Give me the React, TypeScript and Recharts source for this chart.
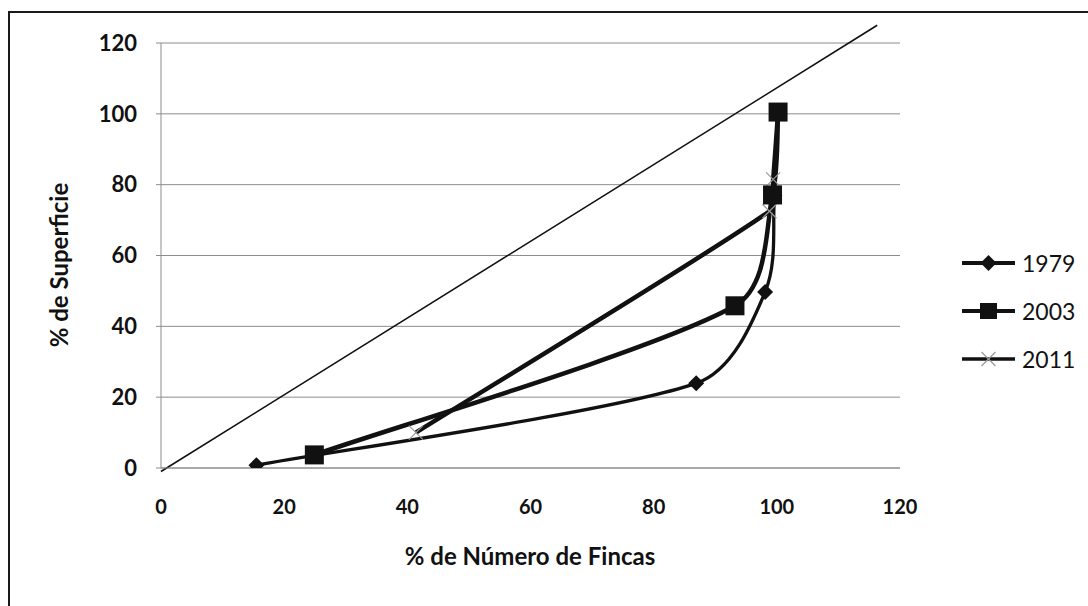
import { LineChart, Line, XAxis, YAxis, CartesianGrid, ReferenceLine } from 'recharts';

// % de Número de Fincas (x) / % de Superficie (y)
const x1979 = [15.5, 86.9, 98.1, 99.6, 100.2];
const y1979 = [0.8, 23.9, 49.7, 77, 100.5];
const x2003 = [24.9, 93.2, 99.3, 100.2];
const y2003 = [3.7, 45.8, 77.1, 100.5];
const x2011 = [41.4, 98.8, 99.4, 100.2];
const y2011 = [10, 72.5, 81.5, 100.5];
const seriesNames = ['1979', '2003', '2011'];
const axisTicks = [0, 20, 40, 60, 80, 100, 120];
const diagonalEnd = { x: 116.3, y: 125 };

const zip = (xs: number[], ys: number[]) => xs.map((x, i) => ({ x, y: ys[i] }));
const d1979 = zip(x1979, y1979);
const d2003 = zip(x2003, y2003);
const d2011 = zip(x2011, y2011);

const FONT = 'Lato, "Open Sans", sans-serif';

// Excel-like smoothed line: Catmull-Rom tangents, capped on short segments
const smoothCurve = (context: any) => {
  let pts: number[][] = [];
  const tangent = (a: number[], b: number[], segLen: number) => {
    const dx = b[0] - a[0];
    const dy = b[1] - a[1];
    const len = Math.hypot(dx, dy) || 1;
    const mag = Math.min(len / 6, segLen / 3);
    return [(dx / len) * mag, (dy / len) * mag];
  };
  return {
    areaStart() {},
    areaEnd() {},
    lineStart() {
      pts = [];
    },
    point(x: number, y: number) {
      pts.push([+x, +y]);
    },
    lineEnd() {
      const n = pts.length;
      if (!n) return;
      context.moveTo(pts[0][0], pts[0][1]);
      for (let i = 0; i < n - 1; i++) {
        const p0 = pts[Math.max(i - 1, 0)];
        const p1 = pts[i];
        const p2 = pts[i + 1];
        const p3 = pts[Math.min(i + 2, n - 1)];
        const seg = Math.hypot(p2[0] - p1[0], p2[1] - p1[1]);
        const t1 = tangent(p0, p2, seg);
        const t2 = tangent(p1, p3, seg);
        context.bezierCurveTo(p1[0] + t1[0], p1[1] + t1[1], p2[0] - t2[0], p2[1] - t2[1], p2[0], p2[1]);
      }
    },
  };
};

const Diamond = (props: any) => {
  const { cx, cy } = props;
  if (cx == null || cy == null) return null;
  return <path d={`M${cx},${cy - 8} L${cx + 8},${cy} L${cx},${cy + 8} L${cx - 8},${cy} Z`} fill="#111" />;
};

const Square = (props: any) => {
  const { cx, cy } = props;
  if (cx == null || cy == null) return null;
  return <rect x={cx - 9.5} y={cy - 9.5} width={19} height={19} fill="#111" />;
};

const Cross = (props: any) => {
  const { cx, cy } = props;
  if (cx == null || cy == null) return null;
  return (
    <g stroke="#9a9a9a" strokeWidth={1.2}>
      <line x1={cx - 7} y1={cy - 7} x2={cx + 7} y2={cy + 7} />
      <line x1={cx - 7} y1={cy + 7} x2={cx + 7} y2={cy - 7} />
    </g>
  );
};

const legendIcon = (i: number) => {
  const line = <line x1={0} y1={10} x2={53} y2={10} stroke="#111" strokeWidth={i === 2 ? 3.5 : 4} />;
  let mark = null;
  if (i === 0) mark = <Diamond cx={26.5} cy={10} />;
  if (i === 1) mark = <rect x={18} y={2} width={17} height={16} fill="#111" />;
  if (i === 2) mark = <Cross cx={26.5} cy={10} />;
  return (
    <svg width={56} height={20} style={{ display: 'block' }}>
      {line}
      {mark}
    </svg>
  );
};

export default function App() {
  return (
    <div
      style={{
        position: 'absolute',
        left: 8,
        top: 11,
        width: 1100,
        height: 620,
        border: '2px solid #1a1a1a',
        background: '#fff',
        fontFamily: FONT,
      }}
    >
      <LineChart width={1080} height={600} margin={{ top: 30, right: 190, left: 41, bottom: 115 }}>
        <CartesianGrid vertical={false} stroke="#8c8c8c" />
        <XAxis
          type="number"
          dataKey="x"
          domain={[0, 120]}
          ticks={axisTicks}
          interval={0}
          allowDataOverflow
          height={30}
          axisLine={{ stroke: '#8c8c8c' }}
          tickLine={false}
          tickSize={0}
          tickMargin={32}
          tick={{ fill: '#111', fontSize: 20, fontWeight: 700, fontFamily: FONT }}
        />
        <YAxis
          type="number"
          dataKey="y"
          domain={[0, 120]}
          ticks={axisTicks}
          interval={0}
          allowDataOverflow
          width={110}
          axisLine={{ stroke: '#8c8c8c' }}
          tickLine={{ stroke: '#8c8c8c' }}
          tickSize={5}
          tickMargin={19}
          tick={{ fill: '#111', fontSize: 22, fontWeight: 700, fontFamily: FONT }}
        />
        <ReferenceLine
          segment={[{ x: 0, y: -1 }, diagonalEnd]}
          ifOverflow="visible"
          stroke="#111"
          strokeWidth={1.6}
        />
        <Line
          data={d1979}
          dataKey="y"
          name={seriesNames[0]}
          type={smoothCurve as any}
          stroke="#111"
          strokeWidth={3.3}
          dot={<Diamond />}
          isAnimationActive={false}
        />
        <Line
          data={d2011}
          dataKey="y"
          name={seriesNames[2]}
          type={smoothCurve as any}
          stroke="#111"
          strokeWidth={4.5}
          dot={<Cross />}
          isAnimationActive={false}
        />
        <Line
          data={d2003}
          dataKey="y"
          name={seriesNames[1]}
          type={smoothCurve as any}
          stroke="#111"
          strokeWidth={4.5}
          dot={<Square />}
          isAnimationActive={false}
        />
      </LineChart>

      {/* axis titles */}
      <div
        style={{
          position: 'absolute',
          left: 48,
          top: 252,
          transform: 'translate(-50%, -50%) rotate(-90deg)',
          whiteSpace: 'nowrap',
          fontSize: 24,
          fontWeight: 700,
          color: '#111',
        }}
      >
        % de Superficie
      </div>
      <div
        style={{
          position: 'absolute',
          left: 520,
          top: 542,
          transform: 'translate(-50%, -50%)',
          whiteSpace: 'nowrap',
          fontSize: 24,
          fontWeight: 700,
          color: '#111',
        }}
      >
        % de Número de Fincas
      </div>

      {/* legend */}
      <div style={{ position: 'absolute', left: 952, top: 236 }}>
        {seriesNames.map((name, i) => (
          <div key={name} style={{ display: 'flex', alignItems: 'center', height: 28, marginBottom: 20 }}>
            {legendIcon(i)}
            <span style={{ fontSize: 23, color: '#111', marginLeft: 4, lineHeight: '28px' }}>{name}</span>
          </div>
        ))}
      </div>
    </div>
  );
}
